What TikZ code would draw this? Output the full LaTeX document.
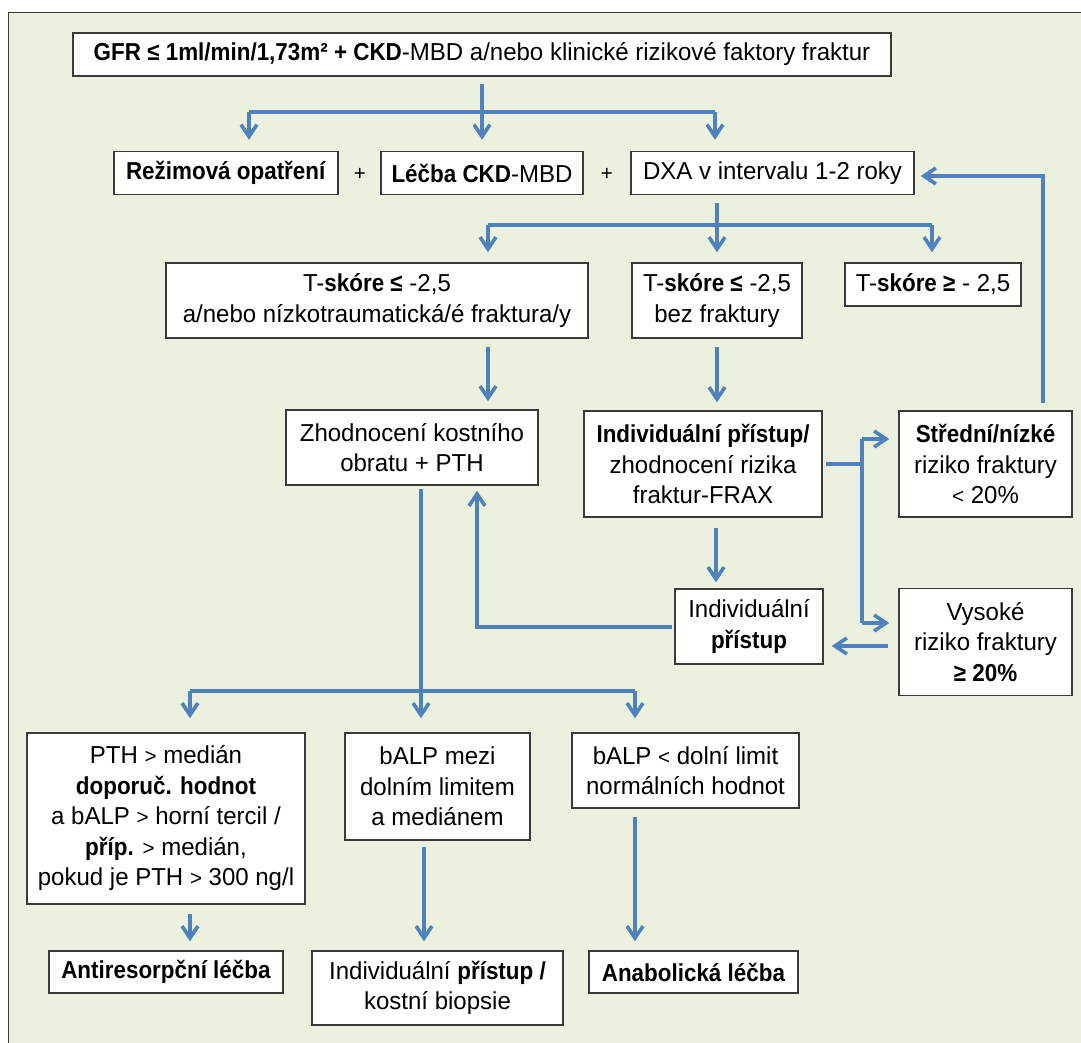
\documentclass[tikz,border=0pt]{standalone}
\usepackage{fontspec}
\setmainfont[FakeStretch=0.98,BoldFeatures={FakeStretch=0.915}]{Liberation Sans}
\usetikzlibrary{arrows.meta,calc}
\definecolor{bgc}{HTML}{EBF1DE}
\definecolor{arc}{HTML}{4F81BD}
\definecolor{bdc}{HTML}{3A3A3A}
\newcommand{\mylt}{{\fontsize{21}{21}\selectfont<}}
\newcommand{\mygt}{{\fontsize{21}{21}\selectfont>}}
\begin{document}
\begin{tikzpicture}[x=1pt,y=-1pt,
  box/.style={draw=bdc, line width=1.3pt, fill=white, align=center, inner sep=0pt, font=\fontsize{24.5}{30.5}\selectfont},
  plus/.style={font=\fontsize{21}{21}\selectfont, inner sep=0pt},
  ln/.style={draw=arc, line width=3.6pt},
  arr/.style={ln, -{Straight Barb[length=12pt,width=16pt]}},
]
\useasboundingbox (0,0) rectangle (1081,1043);
\begin{scope}
\clip (0,0) rectangle (1081,1043);
\fill[bgc] (8.6,12.4) rectangle (1100,1060);
\draw[bdc, line width=1.5pt] (8.6,12.4) rectangle (1100,1060);
\end{scope}

% nodes
\node[box, minimum width=818pt, minimum height=43pt] (top) at (482,54.5) {\textbf{GFR ≤ 1ml/min/1,73m² + CKD}-MBD a/nebo klinické rizikové faktory fraktur};
\node[box, minimum width=224pt, minimum height=43pt] (rezim) at (226,173) {\textbf{Režimová opatření}};
\node[box, minimum width=202pt, minimum height=43pt] (lecba) at (482,173) {\textbf{Léčba CKD}-MBD};
\node[box, minimum width=283pt, minimum height=43pt] (dxa) at (772.5,173) {DXA v intervalu 1-2 roky};
\node[plus] (p1) at (360,174) {+};
\node[plus] (p2) at (607,174) {+};

\node[box, minimum width=422pt, minimum height=75pt] (tsk1) at (377,300.5) {T-\textbf{skóre ≤} -2,5\\a/nebo nízkotraumatická/é fraktura/y};
\node[box, minimum width=170pt, minimum height=75pt] (tsk2) at (717,300.5) {T-\textbf{skóre ≤} -2,5\\bez fraktury};
\node[box, minimum width=176pt, minimum height=43pt] (tsk3) at (933,284.5) {T-\textbf{skóre ≥} - 2,5};

\node[box, minimum width=252pt, minimum height=75pt] (zhod) at (412,447.5) {Zhodnocení kostního\\obratu + PTH};
\node[box, minimum width=238pt, minimum height=106pt] (frax) at (703,464) {\textbf{Individuální přístup/}\\zhodnocení rizika\\fraktur-FRAX};
\node[box, minimum width=173pt, minimum height=106pt] (stred) at (985.5,464) {\textbf{Střední/nízké}\\riziko fraktury\\\mylt{} 20\%};
\node[box, minimum width=148pt, minimum height=75pt] (indiv) at (749,626.5) {Individuální\\\textbf{přístup}};
\node[box, minimum width=173pt, minimum height=107pt] (vysoke) at (985.5,642) {Vysoké\\riziko fraktury\\\textbf{≥ 20\%}};

\node[box, minimum width=278pt, minimum height=171pt] (pth) at (166,818.5) {PTH \mygt{} medián\\\textbf{doporuč. hodnot}\\a bALP \mygt{} horní tercil /\\\textbf{příp.} \mygt{} medián,\\pokud je PTH \mygt{} 300 ng/l};
\node[box, minimum width=185pt, minimum height=107pt] (balp1) at (437.5,786.5) {bALP mezi\\dolním limitem\\a mediánem};
\node[box, minimum width=227pt, minimum height=75pt] (balp2) at (685.5,770.5) {bALP \mylt{} dolní limit\\normálních hodnot};
\node[box, minimum width=234pt, minimum height=42pt] (anti) at (166,972) {\textbf{Antiresorpční léčba}};
\node[box, minimum width=251pt, minimum height=74pt] (indbio) at (437.5,988) {Individuální \textbf{přístup /}\\kostní biopsie};
\node[box, minimum width=209pt, minimum height=42pt] (anab) at (693.5,972) {\textbf{Anabolická léčba}};

% helper coordinates
\coordinate (j1) at (482,112);
\coordinate (xa) at (249,0);
\coordinate (xb) at (715,0);
\coordinate (j2) at (717,225);
\coordinate (xc) at (488,0);
\coordinate (xg) at (932,0);
\coordinate (j3) at (421,691);
\coordinate (xh) at (190,0);
\coordinate (xi) at (635,0);
\coordinate (j4) at (862,464);
\coordinate (ya) at (0,439);
\coordinate (yb) at (0,623);
\coordinate (xd) at (716,0);
\coordinate (yc) at (0,627);
\coordinate (xe) at (477,0);
\coordinate (yd) at (0,646);
\coordinate (xf) at (1043,0);
\coordinate (ye) at (0,176);
\coordinate (xk) at (424,0);

% connectors
\draw[ln, shorten <=7pt] (top.south) -- (j1);
\draw[ln] (j1 -| xa) -- (j1 -| xb);
\draw[arr, shorten >=11pt] (j1 -| xa) -- (rezim.north -| xa);
\draw[arr, shorten >=11pt] (j1) -- (lecba.north);
\draw[arr, shorten >=11pt] (j1 -| xb) -- (dxa.north -| xb);

\draw[ln, shorten <=8pt] (dxa.south -| j2) -- (j2);
\draw[ln] (j2 -| xc) -- (j2 -| xg);
\draw[arr, shorten >=10pt] (j2 -| xc) -- (tsk1.north -| xc);
\draw[arr, shorten >=10pt] (j2) -- (tsk2.north);
\draw[arr, shorten >=10pt] (j2 -| xg) -- (tsk3.north -| xg);

\draw[arr, shorten <=8pt, shorten >=8pt] (tsk1.south -| xc) -- (zhod.north -| xc);
\draw[arr, shorten <=8pt, shorten >=8pt] (tsk2.south) -- (frax.north -| tsk2.south);

\draw[ln, shorten <=3pt] (zhod.south -| j3) -- (j3);
\draw[ln] (j3 -| xh) -- (j3 -| xi);
\draw[arr, shorten >=14pt] (j3 -| xh) -- (pth.north -| xh);
\draw[arr, shorten >=14pt] (j3) -- (balp1.north -| j3);
\draw[arr, shorten >=14pt] (j3 -| xi) -- (balp2.north -| xi);

\draw[ln, shorten <=3pt] (frax.east) -- (j4);
\draw[ln] (j4 |- ya) -- (j4 |- yb);
\draw[arr, shorten >=9pt] (j4 |- ya) -- (stred.west |- ya);
\draw[arr, shorten >=9pt] (j4 |- yb) -- (vysoke.west |- yb);

\draw[arr, shorten <=10pt, shorten >=6pt] (frax.south -| xd) -- (indiv.north -| xd);
\draw[arr, shorten <=2pt, shorten >=5pt] (indiv.west |- yc) -| (zhod.south -| xe);
\draw[arr, shorten <=10pt, shorten >=8pt] (vysoke.west |- yd) -- (indiv.east |- yd);
\draw[arr, shorten <=7pt, shorten >=6pt] (stred.north -| xf) |- (dxa.east |- ye);

\draw[arr, shorten <=9pt, shorten >=9pt] (pth.south -| xh) -- (anti.north -| xh);
\draw[arr, shorten <=6pt, shorten >=9pt] (balp1.south -| xk) -- (indbio.north -| xk);
\draw[arr, shorten <=8pt, shorten >=9pt] (balp2.south -| xi) -- (anab.north -| xi);
\end{tikzpicture}
\end{document}
